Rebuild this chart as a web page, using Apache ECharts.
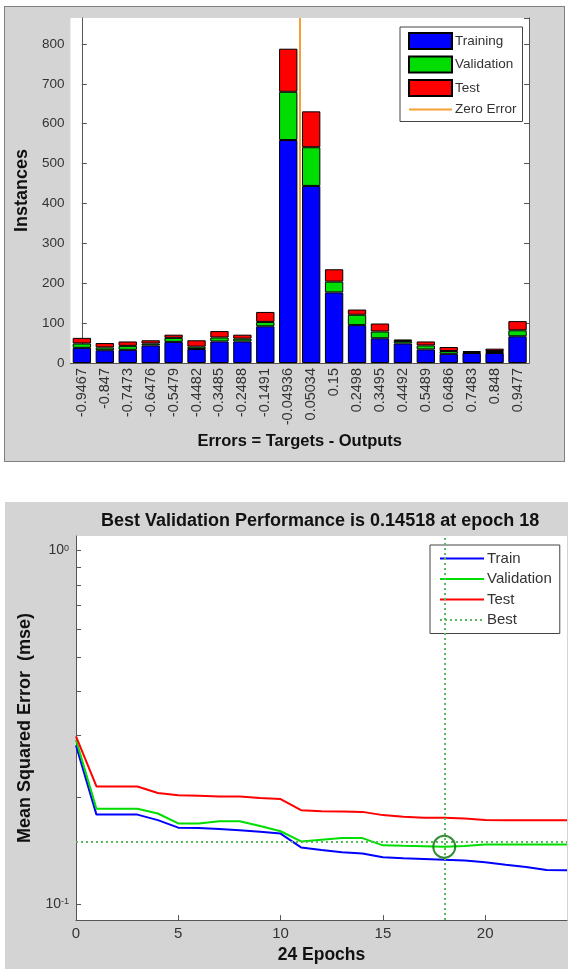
<!DOCTYPE html>
<html>
<head>
<meta charset="utf-8">
<script src="https://cdn.jsdelivr.net/npm/echarts@6/dist/echarts.min.js"></script>
<style>
  body { margin: 0; background: #fff; }
  #hist {
    position: absolute; left: 4px; top: 6px;
    width: 559px; height: 454px;
    background: #d4d4d4; border: 1px solid #808080;
  }
  #perf {
    position: absolute; left: 5px; top: 502px;
    width: 563px; height: 467px;
    background: #d4d4d4;
  }
</style>
</head>
<body>
<div id="hist"></div>
<div id="perf"></div>
<script>
// error histogram (20 bins)
var binCenters = [-0.9467, -0.847, -0.7473, -0.6476, -0.5479, -0.4482, -0.3485, -0.2488, -0.1491, -0.04936,
                  0.05034, 0.15, 0.2498, 0.3495, 0.4492, 0.5489, 0.6486, 0.7483, 0.848, 0.9477];
var trainingCounts   = [38, 32, 33, 44, 53, 35, 54, 54, 92, 559, 444, 177, 95, 62, 49, 34, 23, 25, 25, 67];
var validationCounts = [11, 7, 10, 5, 10, 6, 10, 7, 11, 121, 97, 27, 26, 17, 6, 10, 7, 2, 5, 15];
var testCounts       = [14, 11, 11, 8, 8, 16, 16, 10, 25, 108, 90, 31, 13, 20, 4, 10, 10, 3, 6, 23];
var histMax = 865;

// performance curves, epochs 0..24
var epochs = [0,1,2,3,4,5,6,7,8,9,10,11,12,13,14,15,16,17,18,19,20,21,22,23,24];
var trainPerf = [0.281, 0.179, 0.179, 0.179, 0.1727, 0.1644, 0.164, 0.163, 0.1617, 0.160, 0.1582, 0.1445, 0.1422,
                 0.140, 0.139, 0.1355, 0.1347, 0.134, 0.1333, 0.1327, 0.1313, 0.129, 0.1272, 0.1247, 0.1245];
var valPerf = [0.2914, 0.186, 0.186, 0.186, 0.1803, 0.169, 0.169, 0.1713, 0.1713, 0.1662, 0.1606, 0.1503, 0.152,
               0.1536, 0.1536, 0.1465, 0.146, 0.1456, 0.14518, 0.1458, 0.1474, 0.1474, 0.1474, 0.1474, 0.1474];
var testPerf = [0.298, 0.215, 0.215, 0.215, 0.206, 0.2029, 0.2025, 0.2015, 0.2015, 0.1995, 0.198, 0.1842, 0.183,
                0.1826, 0.1822, 0.1784, 0.1765, 0.1753, 0.1753, 0.1746, 0.1727, 0.1724, 0.1724, 0.1724, 0.1724];
var bestEpoch = 18;
var bestPerf = 0.14518;
var logTicks = [0.1, 0.2, 0.3, 0.4, 0.5, 0.6, 0.7, 0.8, 0.9, 1];

var font = '"Liberation Sans", Arial, sans-serif';
var txt = '#333';

// where zero falls between the bin centres
var zeroPos = 0;
for (var i = 0; i < binCenters.length - 1; i++) {
  if (binCenters[i] < 0 && binCenters[i + 1] >= 0) {
    zeroPos = i + (0 - binCenters[i]) / (binCenters[i + 1] - binCenters[i]);
  }
}

// line legend entries: hide the marker dot, keep the line
function lineItem(name) { return { name: name, itemStyle: { opacity: 0 } }; }

var histChart = echarts.init(document.getElementById('hist'));
histChart.setOption({
  animation: false,
  textStyle: { fontFamily: font },
  grid: { left: 63, top: 11, width: 461, height: 345, show: true, backgroundColor: '#fff', borderWidth: 0 },
  legend: {
    orient: 'vertical', left: 395, top: 20,
    backgroundColor: '#fff', borderColor: '#444', borderWidth: 1,
    padding: [5, 6, 5, 8], itemWidth: 43, itemHeight: 16, itemGap: 5.5,
    textStyle: { fontSize: 13.5, color: txt, fontFamily: font, padding: [0, 0, 0, -2] },
    data: [{ name: 'Training', icon: 'rect' }, { name: 'Validation', icon: 'rect' }, { name: 'Test', icon: 'rect' }, lineItem('Zero Error')]
  },
  xAxis: [
    {
      type: 'category', data: binCenters.map(String), position: 'bottom',
      name: 'Errors = Targets - Outputs', nameLocation: 'middle', nameGap: 69,
      nameTextStyle: { fontSize: 16.5, fontWeight: 'bold', color: '#111', fontFamily: font },
      axisLine: { lineStyle: { color: '#555', width: 1 } },
      axisTick: { inside: true, alignWithLabel: true, length: 5, lineStyle: { color: '#555' } },
      axisLabel: { rotate: 90, fontSize: 14.5, color: txt, margin: 5, interval: 0 }
    },
    {
      type: 'category', data: binCenters.map(String), position: 'top',
      axisLine: { lineStyle: { color: '#555', width: 1 } },
      axisTick: { inside: true, alignWithLabel: true, length: 5, lineStyle: { color: '#555' } },
      axisLabel: { show: false }
    },
    { type: 'value', min: -0.5, max: binCenters.length - 0.5, show: false }
  ],
  yAxis: [
    {
      type: 'value', min: 0, max: histMax, interval: 100,
      name: 'Instances', nameLocation: 'middle', nameGap: 30,
      nameTextStyle: { fontSize: 18, fontWeight: 'bold', color: '#111', fontFamily: font },
      axisLine: { show: true, lineStyle: { color: '#555', width: 1 } },
      axisTick: { show: true, inside: true, length: 5, lineStyle: { color: '#555' } },
      axisLabel: { fontSize: 13.5, color: txt, margin: 6, showMaxLabel: false },
      splitLine: { show: false }
    },
    {
      type: 'value', min: 0, max: histMax, interval: 100, position: 'right',
      axisLine: { show: true, lineStyle: { color: '#555', width: 1 } },
      axisTick: { show: true, inside: true, length: 5, lineStyle: { color: '#555' } },
      axisLabel: { show: false }, splitLine: { show: false }
    }
  ],
  series: [
    { name: 'Training', type: 'bar', stack: 'err', data: trainingCounts, barCategoryGap: '20%',
      itemStyle: { color: '#0000ff', borderColor: '#000', borderWidth: 1 } },
    { name: 'Validation', type: 'bar', stack: 'err', data: validationCounts,
      itemStyle: { color: '#00dd00', borderColor: '#000', borderWidth: 1 } },
    { name: 'Test', type: 'bar', stack: 'err', data: testCounts,
      itemStyle: { color: '#ff0000', borderColor: '#000', borderWidth: 1 } },
    { name: 'Zero Error', type: 'line', xAxisIndex: 2, data: [], symbol: 'none', color: '#f5a033',
      lineStyle: { color: '#f5a033', width: 2.5 },
      markLine: { silent: true, symbol: 'none', label: { show: false },
        lineStyle: { color: '#f5a033', width: 2, type: 'solid' },
        data: [{ xAxis: zeroPos }] } }
  ]
});

var perfChart = echarts.init(document.getElementById('perf'));
function pairs(arr) { return epochs.map(function (e, k) { return [e, arr[k]]; }); }

perfChart.setOption({
  animation: false,
  textStyle: { fontFamily: font },
  title: {
    text: 'Best Validation Performance is ' + bestPerf + ' at epoch ' + bestEpoch,
    left: 91, top: 5,
    textStyle: { fontSize: 18, fontWeight: 'bold', color: '#111', fontFamily: font }
  },
  grid: { left: 71, top: 34, width: 491, height: 390, show: true, backgroundColor: '#fff', borderWidth: 0 },
  legend: {
    orient: 'vertical', left: 425, top: 43,
    backgroundColor: '#fff', borderColor: '#444', borderWidth: 1,
    padding: [6, 8, 6, 9], itemWidth: 44, itemHeight: 14, itemGap: 5.5,
    textStyle: { fontSize: 15, color: txt, fontFamily: font, padding: [0, 0, 0, -2] },
    data: [lineItem('Train'), lineItem('Validation'), lineItem('Test'), lineItem('Best')]
  },
  xAxis: {
    type: 'value', min: 0, max: 24, interval: 5,
    name: epochs.length - 1 + ' Epochs', nameLocation: 'middle', nameGap: 25,
    nameTextStyle: { fontSize: 17.5, fontWeight: 'bold', color: '#111', fontFamily: font },
    axisLine: { lineStyle: { color: '#555', width: 1 } },
    axisTick: { inside: true, length: 5, lineStyle: { color: '#555' } },
    axisLabel: { fontSize: 15, color: txt, margin: 6, showMaxLabel: false },
    splitLine: { show: false }
  },
  yAxis: {
    type: 'log', logBase: 10, min: 0.09, max: 1.1,
    name: 'Mean Squared Error  (mse)', nameLocation: 'middle', nameGap: 36,
    nameTextStyle: { fontSize: 18, fontWeight: 'bold', color: '#111', fontFamily: font },
    axisLine: { show: true, lineStyle: { color: '#555', width: 1 } },
    axisTick: { show: true, inside: true, length: 5, lineStyle: { color: '#555' }, customValues: logTicks },
    axisLabel: {
      customValues: [0.1, 1], margin: 7, color: txt,
      formatter: function (v) { return '{b|10}{e|' + Math.round(Math.log10(v)) + '}'; },
      rich: {
        b: { fontSize: 14, color: txt, fontFamily: font },
        e: { fontSize: 9, color: txt, fontFamily: font, verticalAlign: 'top' }
      }
    },
    splitLine: { show: false }
  },
  series: [
    { name: 'Train', type: 'line', data: pairs(trainPerf), symbol: 'none', color: '#0000ff',
      lineStyle: { color: '#0000ff', width: 2 } },
    { name: 'Validation', type: 'line', data: pairs(valPerf), symbol: 'none', color: '#00dd00',
      lineStyle: { color: '#00dd00', width: 2 } },
    { name: 'Test', type: 'line', data: pairs(testPerf), symbol: 'none', color: '#ff0000',
      lineStyle: { color: '#ff0000', width: 2 } },
    { name: 'Best', type: 'line', data: [], symbol: 'none', color: '#5cb85c',
      lineStyle: { color: '#5cb85c', width: 2, type: [2, 3] },
      markLine: { silent: true, symbol: 'none', label: { show: false },
        lineStyle: { color: '#5cb85c', width: 2, type: [2, 3] },
        data: [{ xAxis: bestEpoch }, { yAxis: bestPerf }] } },
    { name: 'BestPoint', type: 'scatter', data: [[bestEpoch, bestPerf]], symbol: 'circle', symbolSize: 22,
      itemStyle: { color: 'transparent', borderColor: '#006f00', borderWidth: 2 }, z: 5 }
  ]
});
</script>
</body>
</html>
